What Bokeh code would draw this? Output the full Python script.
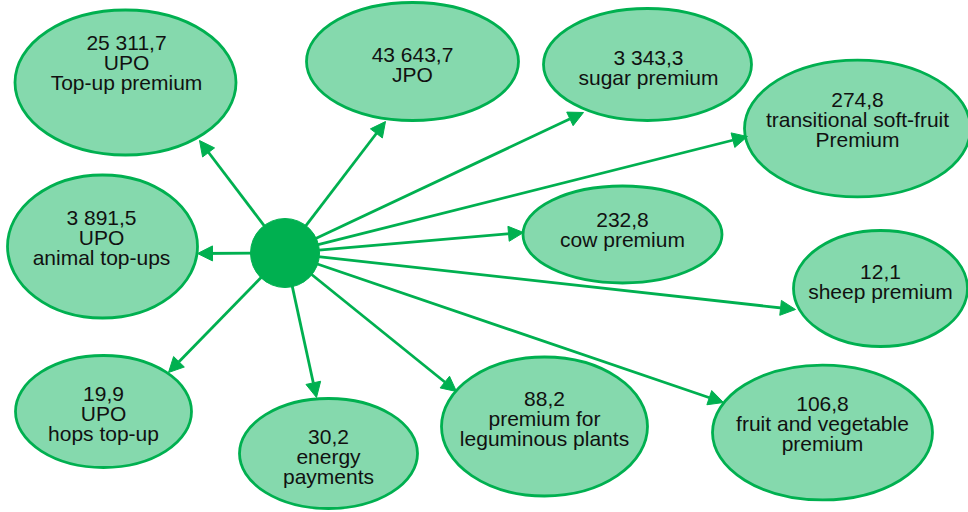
import numpy as np
from bokeh.plotting import figure
from bokeh.models import Range1d, Arrow, NormalHead, ColumnDataSource
from bokeh.core.properties import value
from bokeh.embed import file_html
from bokeh.resources import INLINE

# ---- data (pixel-space layout of the diagram, y measured downward) ----
labels = [
    ["25 311,7", "UPO", "Top-up premium"],
    ["43 643,7", "JPO"],
    ["3 343,3", "sugar premium"],
    ["274,8", "transitional soft-fruit", "Premium"],
    ["3 891,5", "UPO", "animal top-ups"],
    ["232,8", "cow premium"],
    ["12,1", "sheep premium"],
    ["19,9", "UPO", "hops top-up"],
    ["30,2", "energy", "payments"],
    ["88,2", "premium for", "leguminous plants"],
    ["106,8", "fruit and vegetable", "premium"],
]
node_x = [125, 412, 647, 857, 102, 622, 880, 103, 328, 544, 822]
node_y = [82, 61, 64, 128, 246, 234, 288, 411, 453, 426, 432]
node_w = [221, 212, 208, 226, 190, 199, 174, 176, 178, 206, 220]
node_h = [145, 118, 112, 137, 143, 97, 116, 112, 110, 139, 135]
text_x = [126, 412, 648, 857, 101, 622, 880, 103, 328, 544, 822]
text_y0 = [42, 54, 57, 99, 217, 219, 271, 393, 436, 398, 403]
head_x = [199, 385, 583, 747, 197, 523, 795, 168, 316, 456, 723]
head_y = [140, 121, 112, 136, 253, 232, 309, 372, 397, 391, 402]
hub_x, hub_y, hub_r = 284.5, 252.5, 34.5

W, H = 968, 512
GREEN = "#00b050"
FILL = "#85d9ad"
LINE_STEP = 20

def fy(y):
    return H - np.asarray(y, dtype=float)

p = figure(width=W, height=H, output_backend="svg", toolbar_location=None,
           x_range=Range1d(0, W), y_range=Range1d(0, H),
           x_axis_type=None, y_axis_type=None, min_border=0)
p.grid.visible = False
p.outline_line_color = None
p.background_fill_color = "white"
p.border_fill_color = "white"

# ellipses
src = ColumnDataSource(dict(x=node_x, y=fy(node_y), w=node_w, h=node_h))
p.ellipse(x="x", y="y", width="w", height="h", source=src,
          fill_color=FILL, line_color=GREEN, line_width=2.8)

# hub
p.circle(x=[hub_x], y=[fy(hub_y)], radius=hub_r, fill_color=GREEN, line_color=GREEN)

# arrows from the hub edge to each node
for hx, hy in zip(head_x, head_y):
    dx, dy = hx - hub_x, hy - hub_y
    d = np.hypot(dx, dy)
    sx, sy = hub_x + hub_r * dx / d * 0.9, hub_y + hub_r * dy / d * 0.9
    p.add_layout(Arrow(end=NormalHead(size=15, fill_color=GREEN, line_color=GREEN, line_width=1),
                       x_start=sx, y_start=float(fy(sy)), x_end=hx, y_end=float(fy(hy)),
                       line_color=GREEN, line_width=2.8))

# labels
tx, ty, tt = [], [], []
for lines, x0, y0 in zip(labels, text_x, text_y0):
    for i, line in enumerate(lines):
        tx.append(x0)
        ty.append(float(fy(y0 + i * LINE_STEP)))
        tt.append(line)
p.text(x=tx, y=ty, text=tt, text_font=value("Liberation Sans"), text_font_size="21px",
       text_align="center", text_baseline="middle", text_color="#111111")

open("out.html", "w").write(file_html(p, INLINE))
